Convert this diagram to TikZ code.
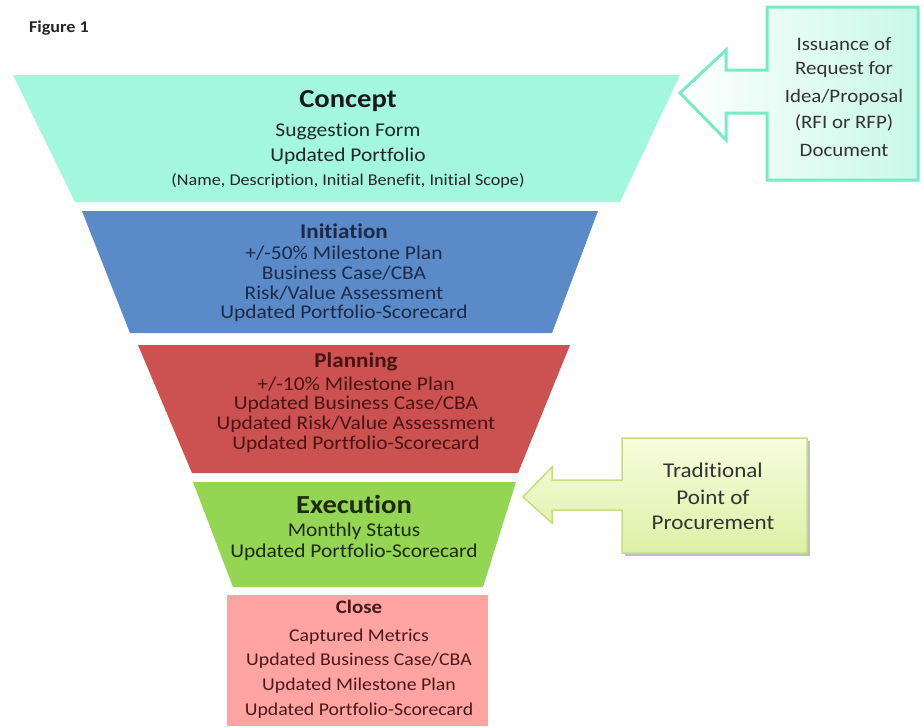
\documentclass[tikz,border=0pt]{standalone}
\usepackage{fontspec}
\setmainfont[FakeStretch=1.1, Ligatures=NoCommon]{Carlito}
\definecolor{cconcept}{HTML}{A2F7DC}
\definecolor{cinit}{HTML}{5A8AC8}
\definecolor{cplan}{HTML}{CB5250}
\definecolor{cexec}{HTML}{95D554}
\definecolor{cclose}{HTML}{FFA3A3}
\definecolor{tinit}{HTML}{1C2A48}
\definecolor{tplan}{HTML}{4A1212}
\definecolor{texec}{HTML}{1E2A10}
\definecolor{tclose}{HTML}{4A1818}
\definecolor{mintedge}{HTML}{78EBC6}
\definecolor{mintfill}{HTML}{C8F8E8}
\definecolor{limeedge}{HTML}{C4DE80}
\definecolor{limetop}{HTML}{F7FCDD}
\definecolor{limebot}{HTML}{DDF0A6}
\tikzset{
  body/.style={font=\fontsize{19.5}{21}\selectfont, inner sep=0pt},
  ttl/.style={font=\fontsize{21}{23}\selectfont\bfseries, inner sep=0pt},
  bigttl/.style={font=\fontsize{26}{28}\selectfont\bfseries, inner sep=0pt},
  callt/.style={font=\fontsize{19}{21}\selectfont, text=black!80, inner sep=0pt},
  callu/.style={font=\fontsize{21}{23}\selectfont, text=black!80, inner sep=0pt},
}
\begin{document}
\begin{tikzpicture}[x=1pt,y=-1pt]
\useasboundingbox (0,0) rectangle (924,726);
\fill[white] (0,0) rectangle (924,726);
\node[font=\fontsize{16.5}{18}\selectfont\bfseries, text=black!85, inner sep=0pt] (fig) at (59,28) {Figure 1};
% funnel
\fill[cconcept] (13,75) -- (680,75) -- (620,202) -- (75,202) -- cycle;
\fill[cinit] (82,211) -- (598,211) -- (552,333) -- (130,333) -- cycle;
\fill[cplan] (138,345) -- (570,345) -- (518,473) -- (192,473) -- cycle;
\fill[cexec] (193,482) -- (516,482) -- (483,587) -- (233,587) -- cycle;
\fill[cclose] (227,595) rectangle (488,726);
% concept text
\node[bigttl, text=black!90] (c0) at (348,101) {Concept};
\node[body, text=black!85] (c1) at (348,131) {Suggestion Form};
\node[body, text=black!85] (c2) at (348,156) {Updated Portfolio};
\node[font=\fontsize{16.5}{18}\selectfont, text=black!85, inner sep=0pt] (c3) at (348,181) {(Name, Description, Initial Benefit, Initial Scope)};
% initiation
\node[ttl, text=tinit] (i0) at (344,231) {Initiation};
\node[body, text=tinit] (i1) at (344,253) {+/-50\% Milestone Plan};
\node[body, text=tinit] (i2) at (344,273) {Business Case/CBA};
\node[body, text=tinit] (i3) at (344,293) {Risk/Value Assessment};
\node[body, text=tinit] (i4) at (344,313) {Updated Portfolio-Scorecard};
% planning
\node[ttl, text=tplan] (p0) at (356,362) {Planning};
\node[body, text=tplan] (p1) at (356,384) {+/-10\% Milestone Plan};
\node[body, text=tplan] (p2) at (356,404) {Updated Business Case/CBA};
\node[body, text=tplan] (p3) at (356,424) {Updated Risk/Value Assessment};
\node[body, text=tplan] (p4) at (356,444) {Updated Portfolio-Scorecard};
% execution
\node[bigttl, text=texec] (e0) at (354,504) {Execution};
\node[body, text=texec] (e1) at (354,531) {Monthly Status};
\node[body, text=texec] (e2) at (354,552) {Updated Portfolio-Scorecard};
% close
\node[font=\fontsize{19}{21}\selectfont\bfseries, text=tclose, inner sep=0pt] (k0) at (359,607) {Close};
\node[body, font=\fontsize{18}{20}\selectfont, text=tclose] (k1) at (359,637) {Captured Metrics};
\node[body, font=\fontsize{18}{20}\selectfont, text=tclose] (k2) at (359,661) {Updated Business Case/CBA};
\node[body, font=\fontsize{18}{20}\selectfont, text=tclose] (k3) at (359,686) {Updated Milestone Plan};
\node[body, font=\fontsize{18}{20}\selectfont, text=tclose] (k4) at (359,711) {Updated Portfolio-Scorecard};
% callout 1
\path[left color=white, right color=mintfill]
  (767,7) -- (918,7) -- (918,180) -- (767,180) -- (767,113) -- (726,113) -- (726,140)
  -- (680,93) -- (726,50) -- (726,70) -- (767,70) -- cycle;
\draw[mintedge, line width=3pt, line join=miter]
  (767,7) -- (918,7) -- (918,180) -- (767,180) -- (767,113) -- (726,113) -- (726,140)
  -- (680,93) -- (726,50) -- (726,70) -- (767,70) -- cycle;
\node[callt] (r1) at (844,44) {Issuance of};
\node[callt] (r2) at (844,70) {Request for};
\node[callt] (r3) at (844,97) {Idea/Proposal};
\node[callt] (r4) at (844,123) {(RFI or RFP)};
\node[callt] (r5) at (844,150) {Document};
% callout 2
\fill[black!25] (625,441) -- (810,441) -- (810,556) -- (625,556) -- cycle;
\path[top color=limetop, bottom color=limebot]
  (622,438) -- (807,438) -- (807,553) -- (622,553) -- (622,510) -- (552,510) -- (552,523)
  -- (523,497) -- (552,467) -- (552,480) -- (622,480) -- cycle;
\draw[limeedge, line width=1.5pt, line join=miter]
  (622,438) -- (807,438) -- (807,553) -- (622,553) -- (622,510) -- (552,510) -- (552,523)
  -- (523,497) -- (552,467) -- (552,480) -- (622,480) -- cycle;
\node[callu] (t1) at (713,470) {Traditional};
\node[callu] (t2) at (713,497) {Point of};
\node[callu] (t3) at (713,523) {Procurement};
\end{tikzpicture}
\end{document}
